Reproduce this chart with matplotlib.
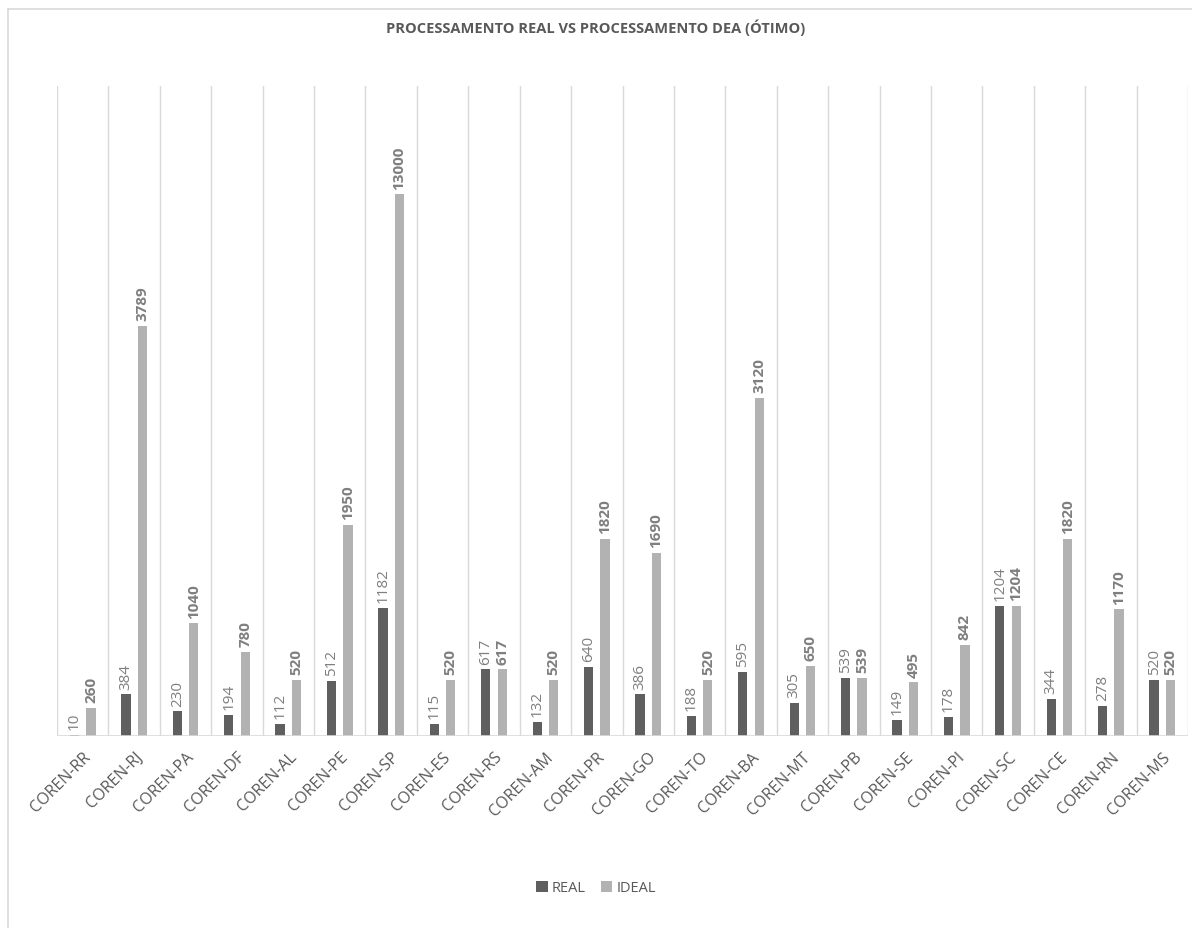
import matplotlib.pyplot as plt
import numpy as np
from matplotlib.lines import Line2D

plt.rcParams["font.family"] = ["Open Sans", "DejaVu Sans"]

# Data
regions = ["COREN-RR", "COREN-RJ", "COREN-PA", "COREN-DF", "COREN-AL", "COREN-PE",
           "COREN-SP", "COREN-ES", "COREN-RS", "COREN-AM", "COREN-PR", "COREN-GO",
           "COREN-TO", "COREN-BA", "COREN-MT", "COREN-PB", "COREN-SE", "COREN-PI",
           "COREN-SC", "COREN-CE", "COREN-RN", "COREN-MS"]
real = [10, 384, 230, 194, 112, 512, 1182, 115, 617, 132, 640, 386,
        188, 595, 305, 539, 149, 178, 1204, 344, 278, 520]
# labels of the ideal series; the SP bar is drawn shorter than its label in the source
ideal_labels = [260, 3789, 1040, 780, 520, 1950, 13000, 520, 617, 520, 1820, 1690,
                520, 3120, 650, 539, 495, 842, 1204, 1820, 1170, 520]
ideal_plotted = [260, 3789, 1040, 780, 520, 1950, 5000, 520, 617, 520, 1820, 1690,
                 520, 3120, 650, 539, 495, 842, 1204, 1820, 1170, 520]

c_real = "#5f5f5f"
c_ideal = "#b2b2b2"
c_text = "#595959"
c_grid = "#d9d9d9"

W, H = 1192, 929
fig = plt.figure(figsize=(W / 100, H / 100), dpi=100)
ax = fig.add_axes([57 / W, (H - 737) / H, (1188 - 57) / W, (737 - 87) / H])

x = np.arange(len(regions))
bw = 0.18
off = 0.16
ax.bar(x - off, real, bw, color=c_real, label="REAL", zorder=3)
ax.bar(x + off, ideal_plotted, bw, color=c_ideal, label="IDEAL", zorder=3)

for i in range(len(regions)):
    ax.annotate(str(real[i]), (x[i] - off, real[i]), xytext=(0, 4),
                textcoords="offset points", rotation=90, ha="center", va="bottom",
                fontsize=11, color="#7f7f7f")
    ax.annotate(str(ideal_labels[i]), (x[i] + off, ideal_plotted[i]), xytext=(0, 4),
                textcoords="offset points", rotation=90, ha="center", va="bottom",
                fontsize=11, color="#7f7f7f", fontweight="bold")

ax.set_xlim(-0.5, len(regions) - 0.5)
ax.set_ylim(0, 6000)
for b in np.arange(len(regions) + 1) - 0.5:
    ax.axvline(b, color=c_grid, lw=1, zorder=1)
ax.axhline(0, color=c_grid, lw=1.2, zorder=4)

for s in ax.spines.values():
    s.set_visible(False)
ax.set_yticks([])
ax.set_xticks(x)
ax.set_xticklabels(regions, rotation=45, ha="right", rotation_mode="anchor",
                   fontsize=11.5, color=c_text)
ax.tick_params(axis="x", length=0, pad=9)

fig.text(596 / W, 1 - 28 / H, "PROCESSAMENTO REAL VS PROCESSAMENTO DEA (ÓTIMO)",
         ha="center", va="center", fontsize=10.5, fontweight="bold", color=c_text)

fig.legend(loc="center", bbox_to_anchor=(596 / W, 1 - 889 / H), ncol=2, frameon=False,
           fontsize=10.5, labelcolor=c_text, handlelength=0.8, handleheight=0.8,
           handletextpad=0.3, columnspacing=1.0)

# chart border
fig.add_artist(Line2D([8 / W, 8 / W], [0, 1 - 10 / H], color=c_grid, lw=1.2))
fig.add_artist(Line2D([8 / W, 1], [1 - 10 / H, 1 - 10 / H], color=c_grid, lw=1.2))

fig.savefig("out.png", dpi=100)
